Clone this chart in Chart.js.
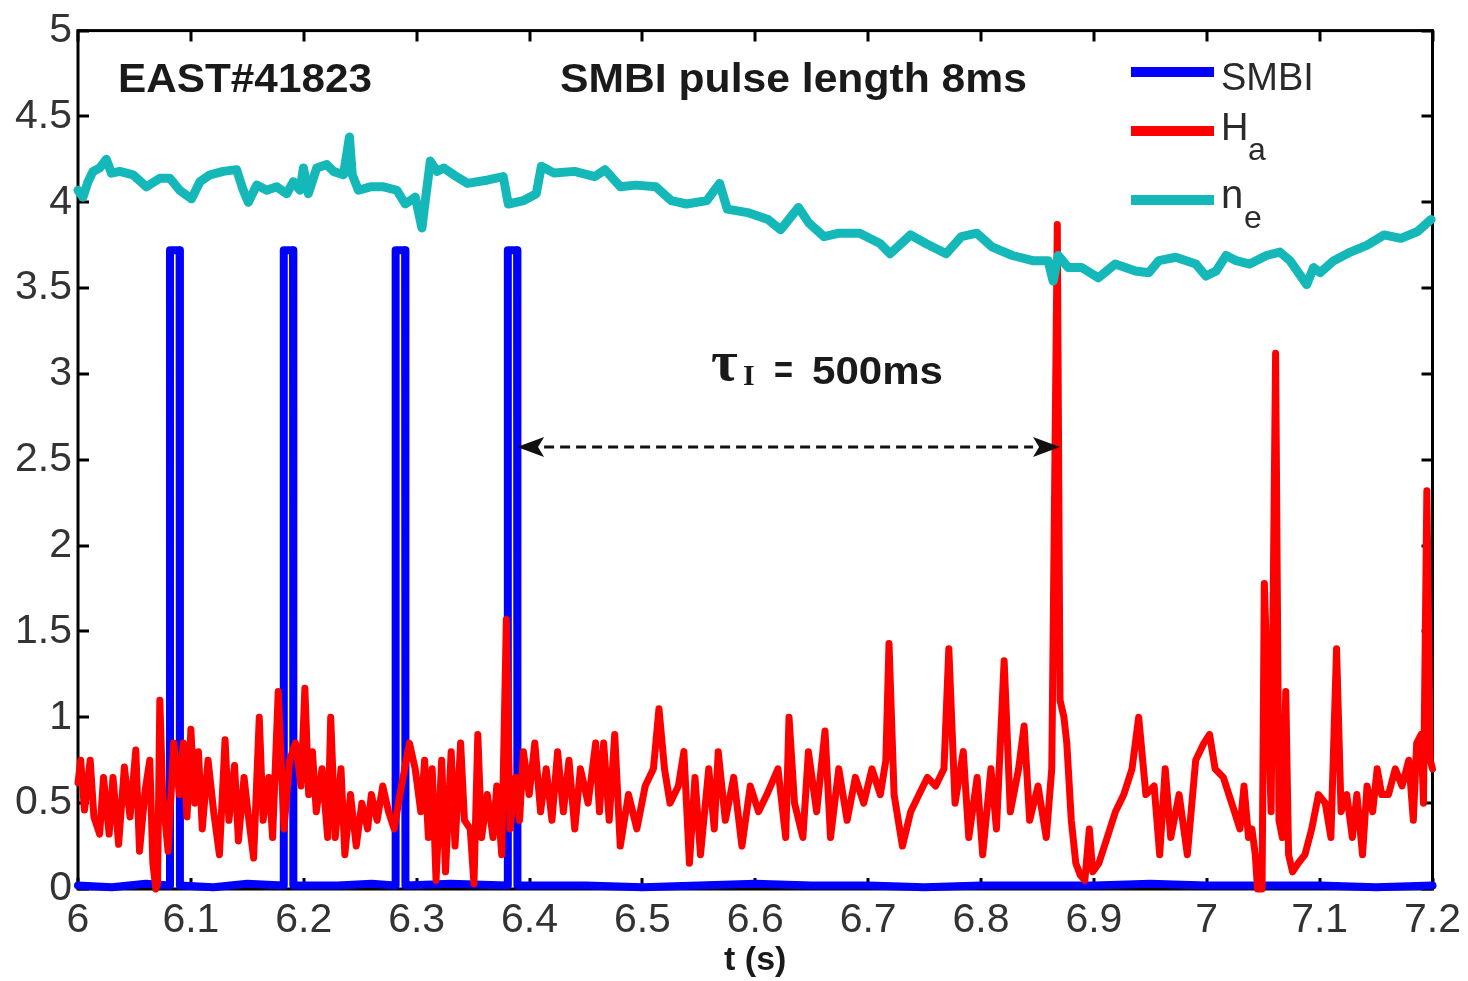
<!DOCTYPE html>
<html>
<head>
<meta charset="utf-8">
<script src="https://cdn.jsdelivr.net/npm/chart.js@4.4.1/dist/chart.umd.min.js"></script>
<style>
  html, body { margin: 0; padding: 0; background: #ffffff; }
  #wrap { width: 1468px; height: 981px; }
</style>
</head>
<body>
<div id="wrap"><canvas id="c" width="1468" height="981"></canvas></div>
<script>
// ---------------- data ----------------
const xTickValues = [6, 6.1, 6.2, 6.3, 6.4, 6.5, 6.6, 6.7, 6.8, 6.9, 7, 7.1, 7.2];
const yTickValues = [0, 0.5, 1, 1.5, 2, 2.5, 3, 3.5, 4, 4.5, 5];
const seriesLabels = ['SMBI', 'Ha', 'ne'];

const smbiT = [6.000, 6.030, 6.060, 6.0812, 6.0815, 6.0900, 6.0903, 6.120, 6.150, 6.1820, 6.1823, 6.1905, 6.1908, 6.230, 6.260, 6.2811, 6.2814, 6.2898, 6.2901, 6.330, 6.3805, 6.3808, 6.3890, 6.3893, 6.450, 6.500, 6.550, 6.600, 6.650, 6.700, 6.750, 6.800, 6.850, 6.900, 6.950, 7.000, 7.050, 7.100, 7.150, 7.200];
const smbiV = [0.02, 0.01, 0.03, 0.02, 3.72, 3.72, 0.02, 0.01, 0.03, 0.02, 3.72, 3.72, 0.02, 0.02, 0.03, 0.02, 3.72, 3.72, 0.02, 0.03, 0.02, 3.72, 3.72, 0.02, 0.02, 0.01, 0.02, 0.03, 0.02, 0.02, 0.01, 0.02, 0.02, 0.02, 0.03, 0.02, 0.02, 0.02, 0.01, 0.02];

const haT = [6.0000, 6.0024, 6.0057, 6.0108, 6.0141, 6.0192, 6.0226, 6.0276, 6.0310, 6.0360, 6.0411, 6.0461, 6.0512, 6.0545, 6.0596, 6.0636, 6.0663, 6.0690, 6.0705, 6.0725, 6.0750, 6.0798, 6.0848, 6.0899, 6.0933, 6.0966, 6.1000, 6.1034, 6.1067, 6.1101, 6.1152, 6.1202, 6.1253, 6.1303, 6.1337, 6.1387, 6.1421, 6.1471, 6.1505, 6.1556, 6.1606, 6.1640, 6.1690, 6.1724, 6.1774, 6.1825, 6.1875, 6.1926, 6.1976, 6.2010, 6.2044, 6.2077, 6.2111, 6.2162, 6.2212, 6.2239, 6.2279, 6.2330, 6.2364, 6.2414, 6.2465, 6.2515, 6.2566, 6.2599, 6.2650, 6.2700, 6.2751, 6.2801, 6.2852, 6.2936, 6.2987, 6.3037, 6.3071, 6.3104, 6.3138, 6.3172, 6.3222, 6.3256, 6.3306, 6.3340, 6.3390, 6.3424, 6.3475, 6.3508, 6.3542, 6.3576, 6.3626, 6.3677, 6.3710, 6.3754, 6.3795, 6.3828, 6.3879, 6.3912, 6.3946, 6.3997, 6.4047, 6.4098, 6.4148, 6.4199, 6.4249, 6.4300, 6.4350, 6.4401, 6.4451, 6.4519, 6.4586, 6.4620, 6.4657, 6.4706, 6.4755, 6.4804, 6.4877, 6.4951, 6.5025, 6.5098, 6.5147, 6.5196, 6.5245, 6.5319, 6.5368, 6.5417, 6.5466, 6.5515, 6.5588, 6.5637, 6.5672, 6.5735, 6.5809, 6.5882, 6.5956, 6.6029, 6.6103, 6.6201, 6.6270, 6.6299, 6.6348, 6.6422, 6.6471, 6.6544, 6.6618, 6.6667, 6.6740, 6.6814, 6.6887, 6.6961, 6.7034, 6.7108, 6.7157, 6.7185, 6.7230, 6.7304, 6.7377, 6.7451, 6.7525, 6.7598, 6.7672, 6.7715, 6.7770, 6.7843, 6.7892, 6.7966, 6.8015, 6.8088, 6.8137, 6.8205, 6.8260, 6.8333, 6.8382, 6.8431, 6.8505, 6.8578, 6.8627, 6.8676, 6.8700, 6.8735, 6.8760, 6.8800, 6.8840, 6.8880, 6.8920, 6.8960, 6.8990, 6.9044, 6.9118, 6.9191, 6.9265, 6.9338, 6.9397, 6.9461, 6.9534, 6.9583, 6.9632, 6.9681, 6.9755, 6.9828, 6.9902, 6.9975, 7.0025, 7.0074, 7.0147, 7.0221, 7.0294, 7.0330, 7.0370, 7.0400, 7.0430, 7.0450, 7.0490, 7.0510, 7.0540, 7.0570, 7.0610, 7.0640, 7.0670, 7.0700, 7.0725, 7.0760, 7.0810, 7.0870, 7.0930, 7.0990, 7.1050, 7.1100, 7.1150, 7.1190, 7.1240, 7.1290, 7.1330, 7.1380, 7.1420, 7.1470, 7.1510, 7.1550, 7.1610, 7.1670, 7.1730, 7.1790, 7.1830, 7.1860, 7.1900, 7.1920, 7.1950, 7.1980, 7.2000];
const haV = [0.62, 0.75, 0.46, 0.75, 0.42, 0.32, 0.65, 0.32, 0.65, 0.26, 0.71, 0.42, 0.81, 0.22, 0.58, 0.75, 0.15, 0.00, 0.03, 1.10, 0.55, 0.22, 0.85, 0.55, 0.85, 0.42, 0.93, 0.50, 0.80, 0.35, 0.75, 0.45, 0.20, 0.87, 0.40, 0.72, 0.28, 0.65, 0.45, 0.18, 1.00, 0.40, 0.65, 0.30, 1.15, 0.35, 0.75, 0.85, 0.60, 1.17, 0.55, 0.80, 0.45, 0.70, 0.30, 1.00, 0.30, 0.70, 0.20, 0.55, 0.25, 0.50, 0.35, 0.55, 0.40, 0.60, 0.45, 0.35, 0.55, 0.85, 0.70, 0.45, 0.75, 0.30, 0.70, 0.05, 0.75, 0.10, 0.80, 0.25, 0.85, 0.40, 0.35, 0.03, 0.90, 0.30, 0.55, 0.30, 0.60, 0.20, 1.57, 0.35, 0.65, 0.40, 0.80, 0.55, 0.85, 0.45, 0.70, 0.40, 0.80, 0.45, 0.75, 0.35, 0.70, 0.50, 0.85, 0.45, 0.85, 0.40, 0.90, 0.25, 0.55, 0.35, 0.60, 0.70, 1.05, 0.70, 0.50, 0.60, 0.80, 0.15, 0.65, 0.20, 0.70, 0.35, 0.80, 0.40, 0.65, 0.25, 0.60, 0.45, 0.55, 0.70, 0.30, 1.00, 0.50, 0.30, 0.80, 0.45, 0.92, 0.30, 0.70, 0.40, 0.65, 0.50, 0.70, 0.55, 0.75, 1.43, 0.55, 0.25, 0.45, 0.55, 0.65, 0.60, 0.70, 1.40, 0.50, 0.80, 0.30, 0.65, 0.20, 0.70, 0.35, 1.33, 0.45, 0.70, 0.95, 0.40, 0.60, 0.30, 0.70, 3.87, 1.10, 1.00, 0.85, 0.40, 0.15, 0.08, 0.05, 0.35, 0.10, 0.15, 0.30, 0.45, 0.55, 0.70, 1.00, 0.55, 0.60, 0.20, 0.70, 0.30, 0.55, 0.20, 0.75, 0.85, 0.90, 0.70, 0.65, 0.50, 0.35, 0.60, 0.30, 0.35, 0.20, 0.00, 0.00, 1.78, 1.15, 0.45, 3.12, 0.40, 0.30, 1.15, 0.20, 0.10, 0.15, 0.20, 0.35, 0.55, 0.50, 0.30, 1.40, 0.45, 0.55, 0.30, 0.55, 0.20, 0.60, 0.45, 0.70, 0.55, 0.55, 0.70, 0.60, 0.75, 0.40, 0.85, 0.90, 0.50, 2.32, 0.75, 0.70];

const neT = [6.0000, 6.0044, 6.0089, 6.0133, 6.0192, 6.0251, 6.0296, 6.0370, 6.0488, 6.0607, 6.0725, 6.0814, 6.0902, 6.1006, 6.1080, 6.1169, 6.1287, 6.1405, 6.1464, 6.1509, 6.1583, 6.1672, 6.1760, 6.1849, 6.1908, 6.1967, 6.1997, 6.2041, 6.2115, 6.2204, 6.2263, 6.2352, 6.2405, 6.2430, 6.2485, 6.2589, 6.2707, 6.2825, 6.2899, 6.2988, 6.3047, 6.3077, 6.3121, 6.3180, 6.3240, 6.3328, 6.3451, 6.3632, 6.3767, 6.3812, 6.3948, 6.4060, 6.4105, 6.4218, 6.4399, 6.4579, 6.4669, 6.4805, 6.4940, 6.5120, 6.5256, 6.5391, 6.5571, 6.5684, 6.5752, 6.5932, 6.6113, 6.6225, 6.6383, 6.6474, 6.6609, 6.6744, 6.6925, 6.7105, 6.7195, 6.7376, 6.7511, 6.7691, 6.7827, 6.7962, 6.8097, 6.8278, 6.8458, 6.8594, 6.8639, 6.8684, 6.8773, 6.8892, 6.9040, 6.9189, 6.9368, 6.9487, 6.9576, 6.9725, 6.9904, 6.9993, 7.0083, 7.0172, 7.0261, 7.0380, 7.0529, 7.0648, 7.0737, 7.0886, 7.0946, 7.1005, 7.1125, 7.1273, 7.1422, 7.1571, 7.1720, 7.1869, 7.1988];
const neV = [4.07, 4.03, 4.12, 4.18, 4.20, 4.25, 4.17, 4.18, 4.16, 4.09, 4.14, 4.14, 4.07, 4.02, 4.12, 4.16, 4.18, 4.19, 4.07, 4.00, 4.10, 4.07, 4.09, 4.05, 4.12, 4.07, 4.20, 4.05, 4.20, 4.22, 4.18, 4.16, 4.38, 4.16, 4.07, 4.09, 4.09, 4.07, 3.99, 4.03, 3.85, 4.01, 4.24, 4.18, 4.20, 4.16, 4.11, 4.13, 4.15, 3.99, 4.01, 4.05, 4.21, 4.17, 4.18, 4.15, 4.19, 4.09, 4.10, 4.09, 4.01, 3.99, 4.01, 4.11, 3.96, 3.94, 3.90, 3.84, 3.97, 3.88, 3.80, 3.82, 3.82, 3.76, 3.70, 3.81, 3.76, 3.70, 3.80, 3.82, 3.74, 3.69, 3.66, 3.66, 3.54, 3.69, 3.62, 3.62, 3.56, 3.64, 3.60, 3.59, 3.66, 3.68, 3.64, 3.57, 3.60, 3.69, 3.66, 3.64, 3.69, 3.71, 3.66, 3.52, 3.62, 3.59, 3.66, 3.71, 3.75, 3.81, 3.79, 3.83, 3.90];

// annotation values
const shotLabel = 'EAST#41823';
const pulseLabel = 'SMBI pulse length 8ms';
const arrowStart = 6.389, arrowEnd = 6.870, arrowLevel = 2.575;

// ---------------- chart ----------------
const COL_SMBI = '#0000FF', COL_HA = '#FF0000', COL_NE = '#14B8B8';
const SANS = '"Liberation Sans", Arial, sans-serif';
const SERIF = '"Liberation Serif", "Times New Roman", serif';

function pts(T, V) { return T.map((t, i) => ({ x: t, y: V[i] })); }

function drawStretched(ctx, text, x, y, font, targetW) {
  ctx.save();
  ctx.font = font;
  const w = ctx.measureText(text).width;
  const sx = targetW ? targetW / w : 1;
  ctx.translate(x, y);
  ctx.scale(sx, 1);
  ctx.textAlign = 'left';
  ctx.fillText(text, 0, 0);
  ctx.restore();
  return w * sx;
}

const framePlugin = {
  id: 'frame',
  beforeDatasetsDraw(chart) {
    const { ctx, chartArea: a, scales: { x, y } } = chart;
    ctx.save();
    ctx.strokeStyle = '#000';
    ctx.lineWidth = 3;
    ctx.strokeRect(a.left, a.top, a.right - a.left, a.bottom - a.top);
    const tl = 11;
    ctx.beginPath();
    xTickValues.forEach(v => {
      const px = Math.round(x.getPixelForValue(v));
      ctx.moveTo(px, a.bottom); ctx.lineTo(px, a.bottom - tl);
      ctx.moveTo(px, a.top); ctx.lineTo(px, a.top + tl);
    });
    yTickValues.forEach(v => {
      const py = Math.round(y.getPixelForValue(v));
      ctx.moveTo(a.left, py); ctx.lineTo(a.left + tl, py);
      ctx.moveTo(a.right, py); ctx.lineTo(a.right - tl, py);
    });
    ctx.stroke();
    ctx.restore();
  },
  afterDatasetsDraw(chart) {
    const { ctx, scales: { x, y } } = chart;
    ctx.save();
    // annotations
    ctx.fillStyle = '#1a1a1a';
    ctx.textBaseline = 'alphabetic';
    drawStretched(ctx, shotLabel, 118, 92, 'bold 40px ' + SANS, 254);
    drawStretched(ctx, pulseLabel, 560, 92, 'bold 40px ' + SANS, 467);

    // tau annotation
    ctx.font = 'bold 58px ' + SERIF;
    ctx.fillText('\u03C4', 711, 380);
    ctx.font = 'bold 30px ' + SERIF;
    ctx.fillText('I', 743, 385);
    drawStretched(ctx, '=', 774, 383, 'bold 38px ' + SANS, 19);
    drawStretched(ctx, '500ms', 812, 384, 'bold 38px ' + SANS, 131);

    // dashed double arrow
    const ax1 = x.getPixelForValue(arrowStart), ax2 = x.getPixelForValue(arrowEnd);
    const ay = y.getPixelForValue(arrowLevel);
    const ah = 27, aw = 10;
    ctx.strokeStyle = '#111';
    ctx.lineWidth = 3;
    ctx.setLineDash([10, 6]);
    ctx.beginPath();
    ctx.moveTo(ax1 + ah, ay); ctx.lineTo(ax2 - ah, ay);
    ctx.stroke();
    ctx.setLineDash([]);
    ctx.fillStyle = '#111';
    ctx.beginPath();
    ctx.moveTo(ax1, ay); ctx.lineTo(ax1 + ah, ay - aw); ctx.lineTo(ax1 + ah - 6, ay); ctx.lineTo(ax1 + ah, ay + aw); ctx.closePath();
    ctx.fill();
    ctx.beginPath();
    ctx.moveTo(ax2, ay); ctx.lineTo(ax2 - ah, ay - aw); ctx.lineTo(ax2 - ah + 6, ay); ctx.lineTo(ax2 - ah, ay + aw); ctx.closePath();
    ctx.fill();

    // legend
    const lx1 = 1131, lx2 = 1214;
    const rows = [
      { c: COL_SMBI, y: 72 },
      { c: COL_HA, y: 131 },
      { c: COL_NE, y: 200 }
    ];
    rows.forEach(r => {
      ctx.strokeStyle = r.c;
      ctx.lineWidth = 10;
      ctx.lineCap = 'butt';
      ctx.beginPath(); ctx.moveTo(lx1, r.y); ctx.lineTo(lx2, r.y); ctx.stroke();
    });
    ctx.fillStyle = '#2a2a2a';
    ctx.font = '38px ' + SANS;
    ctx.fillText('SMBI', 1221, 90);
    ctx.fillText('H', 1221, 140);
    ctx.font = '32px ' + SANS;
    ctx.fillText('a', 1248, 160);
    ctx.font = '40px ' + SANS;
    ctx.fillText('n', 1221, 208);
    ctx.font = '32px ' + SANS;
    ctx.fillText('e', 1244, 228);
    ctx.restore();
  }
};

new Chart(document.getElementById('c'), {
  type: 'scatter',
  data: {
    datasets: [
      { label: seriesLabels[0], data: pts(smbiT, smbiV), showLine: true, borderColor: COL_SMBI, backgroundColor: COL_SMBI, borderWidth: 8, pointRadius: 0, borderJoinStyle: 'round', borderCapStyle: 'round', order: 2, clip: 6 },
      { label: seriesLabels[1], data: pts(haT, haV), showLine: true, borderColor: COL_HA, backgroundColor: COL_HA, borderWidth: 7, pointRadius: 0, borderJoinStyle: 'round', borderCapStyle: 'round', order: 1, clip: 6 },
      { label: seriesLabels[2], data: pts(neT, neV), showLine: true, borderColor: COL_NE, backgroundColor: COL_NE, borderWidth: 9, pointRadius: 0, borderJoinStyle: 'round', borderCapStyle: 'round', order: 0, clip: 6 }
    ]
  },
  options: {
    responsive: false,
    animation: false,
    events: [],
    layout: { padding: { top: 25, right: 33, left: 0, bottom: 0 } },
    plugins: { legend: { display: false }, tooltip: { enabled: false } },
    scales: {
      x: {
        type: 'linear', min: 6, max: 7.2,
        afterBuildTicks: s => { s.ticks = xTickValues.map(v => ({ value: v })); },
        ticks: { autoSkip: false, maxRotation: 0, padding: 7, color: '#333', font: { family: SANS, size: 41 },
          callback: v => String(+(+v).toFixed(1)) },
        grid: { display: false, drawTicks: false },
        border: { display: false },
        title: { display: true, text: 't (s)', color: '#1a1a1a', font: { family: SANS, size: 34, weight: 'bold' }, padding: { top: 0, bottom: 0 } },
        afterFit: s => { s.height = 92; }
      },
      y: {
        type: 'linear', min: 0, max: 5,
        afterBuildTicks: s => { s.ticks = yTickValues.map(v => ({ value: v })); },
        ticks: { autoSkip: false, padding: 6, color: '#333', font: { family: SANS, size: 41 },
          callback: v => String(+(+v).toFixed(1)) },
        grid: { display: false, drawTicks: false },
        border: { display: false },
        afterFit: s => { s.width = 78; }
      }
    }
  },
  plugins: [framePlugin]
});
</script>
</body>
</html>
